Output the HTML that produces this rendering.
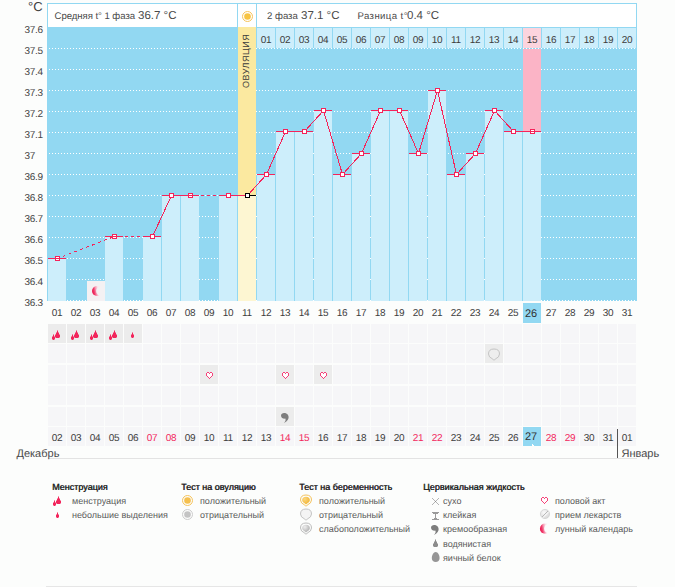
<!DOCTYPE html>
<html><head><meta charset="utf-8"><title>chart</title>
<style>
*{margin:0;padding:0;box-sizing:border-box}
html,body{width:675px;height:587px;overflow:hidden;background:#fcfdfc}
body{position:relative;font-family:"Liberation Sans",sans-serif;color:#4a4a4a;text-rendering:geometricPrecision}
.a{position:absolute}
.t{position:absolute;white-space:nowrap;line-height:1;margin-top:1px}
.yl{position:absolute;margin-top:1px;left:24.6px;font-size:10px;line-height:10px;color:#444;letter-spacing:-0.3px}
.bar{position:absolute;background:#cdeefb}
.grid{position:absolute;left:47px;width:590px;height:1px;background:repeating-linear-gradient(90deg,transparent 0 2px,#fff 2px 3px)}
.hc{position:absolute;top:28px;width:18px;height:20px;background:#cdeefb;font-size:10px;line-height:10px;padding-top:8px;text-align:center;color:#3c3c3c;letter-spacing:-0.2px}
.dl{position:absolute;margin-top:1px;width:18px;text-align:center;font-size:10px;line-height:10px;color:#3c3c3c;letter-spacing:-0.2px}
.cell{position:absolute;width:18px;height:19px;background:#f6f6f8}
.cf{background:#ececec}
.lg{position:absolute;margin-top:1px;font-size:9px;line-height:10px;color:#5a5a5a;white-space:nowrap}
.lt{position:absolute;margin-top:1px;font-size:9px;line-height:10px;color:#262626;white-space:nowrap;letter-spacing:0px;text-shadow:0.4px 0 0 #262626}
</style></head><body>

<div class="a" style="left:47px;top:3px;width:590px;height:298px;background:#92d8f2"></div>
<div class="a" style="left:48px;top:4px;width:189px;height:23px;background:#fff"></div>
<div class="a" style="left:238px;top:4px;width:18px;height:23px;background:#fff"></div>
<div class="a" style="left:257px;top:4px;width:379px;height:23px;background:#fff"></div>
<div class="grid" style="top:48px"></div>
<div class="grid" style="top:69px"></div>
<div class="grid" style="top:90px"></div>
<div class="grid" style="top:111px"></div>
<div class="grid" style="top:132px"></div>
<div class="grid" style="top:153px"></div>
<div class="grid" style="top:174px"></div>
<div class="grid" style="top:195px"></div>
<div class="grid" style="top:216px"></div>
<div class="grid" style="top:237px"></div>
<div class="grid" style="top:258px"></div>
<div class="grid" style="top:279px"></div>
<div class="grid" style="top:300px"></div>
<div class="a" style="left:238px;top:27px;width:18px;height:169px;background:#fbe9a0"></div>
<div class="a" style="left:523px;top:49px;width:18px;height:83px;background:#fbb4c6"></div>
<div class="hc" style="left:257px;background:#cdeefb">01</div>
<div class="hc" style="left:276px;background:#cdeefb">02</div>
<div class="hc" style="left:295px;background:#cdeefb">03</div>
<div class="hc" style="left:314px;background:#cdeefb">04</div>
<div class="hc" style="left:333px;background:#cdeefb">05</div>
<div class="hc" style="left:352px;background:#cdeefb">06</div>
<div class="hc" style="left:371px;background:#cdeefb">07</div>
<div class="hc" style="left:390px;background:#cdeefb">08</div>
<div class="hc" style="left:409px;background:#cdeefb">09</div>
<div class="hc" style="left:428px;background:#cdeefb">10</div>
<div class="hc" style="left:447px;background:#cdeefb">11</div>
<div class="hc" style="left:466px;background:#cdeefb">12</div>
<div class="hc" style="left:485px;background:#cdeefb">13</div>
<div class="hc" style="left:504px;background:#cdeefb">14</div>
<div class="hc" style="left:523px;background:#fcd4de">15</div>
<div class="hc" style="left:542px;background:#cdeefb">16</div>
<div class="hc" style="left:561px;background:#cdeefb">17</div>
<div class="hc" style="left:580px;background:#cdeefb">18</div>
<div class="hc" style="left:599px;background:#cdeefb">19</div>
<div class="hc" style="left:618px;background:#cdeefb">20</div>
<div class="bar" style="left:48px;top:259px;width:18px;height:42px;background:#cdeefb"></div>
<div class="bar" style="left:105px;top:237px;width:18px;height:64px;background:#cdeefb"></div>
<div class="bar" style="left:143px;top:237px;width:18px;height:64px;background:#cdeefb"></div>
<div class="bar" style="left:162px;top:196px;width:18px;height:105px;background:#cdeefb"></div>
<div class="bar" style="left:181px;top:196px;width:18px;height:105px;background:#cdeefb"></div>
<div class="bar" style="left:219px;top:196px;width:18px;height:105px;background:#cdeefb"></div>
<div class="bar" style="left:238px;top:196px;width:18px;height:105px;background:#fdf6d2"></div>
<div class="bar" style="left:257px;top:175px;width:18px;height:126px;background:#cdeefb"></div>
<div class="bar" style="left:276px;top:132px;width:18px;height:169px;background:#cdeefb"></div>
<div class="bar" style="left:295px;top:132px;width:18px;height:169px;background:#cdeefb"></div>
<div class="bar" style="left:314px;top:111px;width:18px;height:190px;background:#cdeefb"></div>
<div class="bar" style="left:333px;top:175px;width:18px;height:126px;background:#cdeefb"></div>
<div class="bar" style="left:352px;top:154px;width:18px;height:147px;background:#cdeefb"></div>
<div class="bar" style="left:371px;top:111px;width:18px;height:190px;background:#cdeefb"></div>
<div class="bar" style="left:390px;top:111px;width:18px;height:190px;background:#cdeefb"></div>
<div class="bar" style="left:409px;top:154px;width:18px;height:147px;background:#cdeefb"></div>
<div class="bar" style="left:428px;top:91px;width:18px;height:210px;background:#cdeefb"></div>
<div class="bar" style="left:447px;top:175px;width:18px;height:126px;background:#cdeefb"></div>
<div class="bar" style="left:466px;top:154px;width:18px;height:147px;background:#cdeefb"></div>
<div class="bar" style="left:485px;top:111px;width:18px;height:190px;background:#cdeefb"></div>
<div class="bar" style="left:504px;top:132px;width:18px;height:169px;background:#cdeefb"></div>
<div class="bar" style="left:523px;top:132px;width:18px;height:169px;background:#cdeefb"></div>
<div class="a" style="left:87px;top:281px;width:18px;height:20px;background:#f4f1f3"></div>
<svg class="a" style="left:0;top:0" width="675" height="587" viewBox="0 0 675 587" shape-rendering="crispEdges">
<line x1="57.5" y1="258.5" x2="114.5" y2="236.5" stroke="#f5235a" stroke-width="1" stroke-dasharray="3 3.3" stroke-dashoffset="0.76"/>
<line x1="114.5" y1="236.5" x2="152.5" y2="236.5" stroke="#f5235a" stroke-width="1" stroke-dasharray="3 3" stroke-dashoffset="1.5"/>
<line x1="152.5" y1="236.5" x2="171.5" y2="195.5" stroke="#f5235a" stroke-width="1"/>
<line x1="171.5" y1="195.5" x2="190.5" y2="195.5" stroke="#f5235a" stroke-width="1"/>
<line x1="190.5" y1="195.5" x2="228.5" y2="195.5" stroke="#f5235a" stroke-width="1" stroke-dasharray="3 3" stroke-dashoffset="1.5"/>
<line x1="228.5" y1="195.5" x2="247.5" y2="195.5" stroke="#f5235a" stroke-width="1"/>
<line x1="247.5" y1="195.5" x2="266.5" y2="174.5" stroke="#f5235a" stroke-width="1"/>
<line x1="266.5" y1="174.5" x2="285.5" y2="131.5" stroke="#f5235a" stroke-width="1"/>
<line x1="285.5" y1="131.5" x2="304.5" y2="131.5" stroke="#f5235a" stroke-width="1"/>
<line x1="304.5" y1="131.5" x2="323.5" y2="110.5" stroke="#f5235a" stroke-width="1"/>
<line x1="323.5" y1="110.5" x2="342.5" y2="174.5" stroke="#f5235a" stroke-width="1"/>
<line x1="342.5" y1="174.5" x2="361.5" y2="153.5" stroke="#f5235a" stroke-width="1"/>
<line x1="361.5" y1="153.5" x2="380.5" y2="110.5" stroke="#f5235a" stroke-width="1"/>
<line x1="380.5" y1="110.5" x2="399.5" y2="110.5" stroke="#f5235a" stroke-width="1"/>
<line x1="399.5" y1="110.5" x2="418.5" y2="153.5" stroke="#f5235a" stroke-width="1"/>
<line x1="418.5" y1="153.5" x2="437.5" y2="90.5" stroke="#f5235a" stroke-width="1"/>
<line x1="437.5" y1="90.5" x2="456.5" y2="174.5" stroke="#f5235a" stroke-width="1"/>
<line x1="456.5" y1="174.5" x2="475.5" y2="153.5" stroke="#f5235a" stroke-width="1"/>
<line x1="475.5" y1="153.5" x2="494.5" y2="110.5" stroke="#f5235a" stroke-width="1"/>
<line x1="494.5" y1="110.5" x2="513.5" y2="131.5" stroke="#f5235a" stroke-width="1"/>
<line x1="513.5" y1="131.5" x2="532.5" y2="131.5" stroke="#f5235a" stroke-width="1"/>
<rect x="48" y="258" width="18" height="1" fill="#f5235a"/>
<rect x="105" y="236" width="18" height="1" fill="#f5235a"/>
<rect x="143" y="236" width="18" height="1" fill="#f5235a"/>
<rect x="162" y="195" width="18" height="1" fill="#f5235a"/>
<rect x="181" y="195" width="18" height="1" fill="#f5235a"/>
<rect x="219" y="195" width="18" height="1" fill="#f5235a"/>
<rect x="238" y="195" width="9" height="1" fill="#f5235a"/>
<rect x="247" y="195" width="9" height="1" fill="#000"/>
<rect x="257" y="174" width="18" height="1" fill="#f5235a"/>
<rect x="276" y="131" width="18" height="1" fill="#f5235a"/>
<rect x="295" y="131" width="18" height="1" fill="#f5235a"/>
<rect x="314" y="110" width="18" height="1" fill="#f5235a"/>
<rect x="333" y="174" width="18" height="1" fill="#f5235a"/>
<rect x="352" y="153" width="18" height="1" fill="#f5235a"/>
<rect x="371" y="110" width="18" height="1" fill="#f5235a"/>
<rect x="390" y="110" width="18" height="1" fill="#f5235a"/>
<rect x="409" y="153" width="18" height="1" fill="#f5235a"/>
<rect x="428" y="90" width="18" height="1" fill="#f5235a"/>
<rect x="447" y="174" width="18" height="1" fill="#f5235a"/>
<rect x="466" y="153" width="18" height="1" fill="#f5235a"/>
<rect x="485" y="110" width="18" height="1" fill="#f5235a"/>
<rect x="504" y="131" width="18" height="1" fill="#f5235a"/>
<rect x="523" y="131" width="18" height="1" fill="#f5235a"/>
<rect x="55.5" y="256.5" width="4" height="4" fill="#fff" stroke="#f5235a" stroke-width="1"/>
<rect x="112.5" y="234.5" width="4" height="4" fill="#fff" stroke="#f5235a" stroke-width="1"/>
<rect x="150.5" y="234.5" width="4" height="4" fill="#fff" stroke="#f5235a" stroke-width="1"/>
<rect x="169.5" y="193.5" width="4" height="4" fill="#fff" stroke="#f5235a" stroke-width="1"/>
<rect x="188.5" y="193.5" width="4" height="4" fill="#fff" stroke="#f5235a" stroke-width="1"/>
<rect x="226.5" y="193.5" width="4" height="4" fill="#fff" stroke="#f5235a" stroke-width="1"/>
<rect x="245.5" y="193.5" width="4" height="4" fill="#fff" stroke="#000" stroke-width="1"/>
<rect x="264.5" y="172.5" width="4" height="4" fill="#fff" stroke="#f5235a" stroke-width="1"/>
<rect x="283.5" y="129.5" width="4" height="4" fill="#fff" stroke="#f5235a" stroke-width="1"/>
<rect x="302.5" y="129.5" width="4" height="4" fill="#fff" stroke="#f5235a" stroke-width="1"/>
<rect x="321.5" y="108.5" width="4" height="4" fill="#fff" stroke="#f5235a" stroke-width="1"/>
<rect x="340.5" y="172.5" width="4" height="4" fill="#fff" stroke="#f5235a" stroke-width="1"/>
<rect x="359.5" y="151.5" width="4" height="4" fill="#fff" stroke="#f5235a" stroke-width="1"/>
<rect x="378.5" y="108.5" width="4" height="4" fill="#fff" stroke="#f5235a" stroke-width="1"/>
<rect x="397.5" y="108.5" width="4" height="4" fill="#fff" stroke="#f5235a" stroke-width="1"/>
<rect x="416.5" y="151.5" width="4" height="4" fill="#fff" stroke="#f5235a" stroke-width="1"/>
<rect x="435.5" y="88.5" width="4" height="4" fill="#fff" stroke="#f5235a" stroke-width="1"/>
<rect x="454.5" y="172.5" width="4" height="4" fill="#fff" stroke="#f5235a" stroke-width="1"/>
<rect x="473.5" y="151.5" width="4" height="4" fill="#fff" stroke="#f5235a" stroke-width="1"/>
<rect x="492.5" y="108.5" width="4" height="4" fill="#fff" stroke="#f5235a" stroke-width="1"/>
<rect x="511.5" y="129.5" width="4" height="4" fill="#fff" stroke="#f5235a" stroke-width="1"/>
<rect x="530.5" y="129.5" width="4" height="4" fill="#fff" stroke="#f5235a" stroke-width="1"/>
<rect x="48" y="258" width="18" height="1" fill="#f5235a"/>
<rect x="105" y="236" width="18" height="1" fill="#f5235a"/>
<rect x="181" y="195" width="18" height="1" fill="#f5235a"/>
<rect x="523" y="131" width="18" height="1" fill="#f5235a"/>
</svg>
<div class="yl" style="top:25px">37.6</div>
<div class="yl" style="top:46px">37.5</div>
<div class="yl" style="top:67px">37.4</div>
<div class="yl" style="top:88px">37.3</div>
<div class="yl" style="top:109px">37.2</div>
<div class="yl" style="top:130px">37.1</div>
<div class="yl" style="top:151px">37</div>
<div class="yl" style="top:172px">36.9</div>
<div class="yl" style="top:193px">36.8</div>
<div class="yl" style="top:214px">36.7</div>
<div class="yl" style="top:235px">36.6</div>
<div class="yl" style="top:256px">36.5</div>
<div class="yl" style="top:277px">36.4</div>
<div class="yl" style="top:298px">36.3</div>
<div class="t" style="left:28px;top:-1px;font-size:13px;line-height:13px;color:#3c3c3c">&deg;C</div>
<div style="position:absolute;white-space:nowrap;line-height:10px;color:#4a4a4a;margin-top:1px;left:54.5px;top:11px;font-size:9.6px;letter-spacing:-0.05px">Средняя t° 1 фаза</div>
<div style="position:absolute;white-space:nowrap;line-height:10px;color:#4a4a4a;margin-top:1px;left:138px;top:10px;font-size:11.5px;letter-spacing:0px">36.7 °C</div>
<div style="position:absolute;white-space:nowrap;line-height:10px;color:#4a4a4a;margin-top:1px;left:267px;top:11px;font-size:9.6px;letter-spacing:0px">2 фаза</div>
<div style="position:absolute;white-space:nowrap;line-height:10px;color:#4a4a4a;margin-top:1px;left:301px;top:10px;font-size:11.5px">37.1 °C</div>
<div style="position:absolute;white-space:nowrap;line-height:10px;color:#4a4a4a;margin-top:1px;left:357.5px;top:11px;font-size:9.6px;letter-spacing:0.4px">Разница t°</div>
<div style="position:absolute;white-space:nowrap;line-height:10px;color:#4a4a4a;margin-top:1px;left:407px;top:10px;font-size:11.5px">0.4 °C</div>
<svg class="a" style="left:242px;top:11px" width="12" height="12" viewBox="0 0 12 12"><circle cx="5.5" cy="5.5" r="5" fill="none" stroke="#f6c35a" stroke-width="1"/><circle cx="5.5" cy="5.5" r="3.3" fill="#f7c443"/></svg>
<div class="t" style="left:242px;top:87px;font-size:9px;color:#3a3a3a;transform:rotate(-90deg);transform-origin:0 0;letter-spacing:0.5px">ОВУЛЯЦИЯ</div>
<svg class="a" style="left:0;top:0" width="675" height="587" viewBox="0 0 675 587"><defs><linearGradient id="mga" x1="0" y1="0.6" x2="1" y2="0.4"><stop offset="0.05" stop-color="#ec1a52"/><stop offset="0.22" stop-color="#f03a6a"/><stop offset="0.42" stop-color="#f79fb7"/><stop offset="0.65" stop-color="#fde6ee"/></linearGradient><mask id="mma"><rect x="91.0" y="285.0" width="12.0" height="12.0" fill="#fff"/><circle cx="100.90" cy="291.00" r="4.75" fill="#000"/></mask></defs><circle cx="97.00" cy="291.00" r="5.00" fill="url(#mga)" mask="url(#mma)"/></svg>
<div class="dl" style="left:48px;top:308px">01</div>
<div class="dl" style="left:67px;top:308px">02</div>
<div class="dl" style="left:86px;top:308px">03</div>
<div class="dl" style="left:105px;top:308px">04</div>
<div class="dl" style="left:124px;top:308px">05</div>
<div class="dl" style="left:143px;top:308px">06</div>
<div class="dl" style="left:162px;top:308px">07</div>
<div class="dl" style="left:181px;top:308px">08</div>
<div class="dl" style="left:200px;top:308px">09</div>
<div class="dl" style="left:219px;top:308px">10</div>
<div class="dl" style="left:238px;top:308px">11</div>
<div class="dl" style="left:257px;top:308px">12</div>
<div class="dl" style="left:276px;top:308px">13</div>
<div class="dl" style="left:295px;top:308px">14</div>
<div class="dl" style="left:314px;top:308px">15</div>
<div class="dl" style="left:333px;top:308px">16</div>
<div class="dl" style="left:352px;top:308px">17</div>
<div class="dl" style="left:371px;top:308px">18</div>
<div class="dl" style="left:390px;top:308px">19</div>
<div class="dl" style="left:409px;top:308px">20</div>
<div class="dl" style="left:428px;top:308px">21</div>
<div class="dl" style="left:447px;top:308px">22</div>
<div class="dl" style="left:466px;top:308px">23</div>
<div class="dl" style="left:485px;top:308px">24</div>
<div class="dl" style="left:504px;top:308px">25</div>
<div class="a" style="left:523px;top:303px;width:18px;height:20px;background:#92d8f2"></div>
<div class="dl" style="left:522px;top:307px;font-size:11px;line-height:12px;color:#333">26</div>
<div class="dl" style="left:542px;top:308px">27</div>
<div class="dl" style="left:561px;top:308px">28</div>
<div class="dl" style="left:580px;top:308px">29</div>
<div class="dl" style="left:599px;top:308px">30</div>
<div class="dl" style="left:618px;top:308px">31</div>
<div class="cell cf" style="left:48px;top:324px"></div>
<div class="cell cf" style="left:67px;top:324px"></div>
<div class="cell cf" style="left:86px;top:324px"></div>
<div class="cell cf" style="left:105px;top:324px"></div>
<div class="cell cf" style="left:124px;top:324px"></div>
<div class="cell" style="left:143px;top:324px"></div>
<div class="cell" style="left:162px;top:324px"></div>
<div class="cell" style="left:181px;top:324px"></div>
<div class="cell" style="left:200px;top:324px"></div>
<div class="cell" style="left:219px;top:324px"></div>
<div class="cell" style="left:238px;top:324px"></div>
<div class="cell" style="left:257px;top:324px"></div>
<div class="cell" style="left:276px;top:324px"></div>
<div class="cell" style="left:295px;top:324px"></div>
<div class="cell" style="left:314px;top:324px"></div>
<div class="cell" style="left:333px;top:324px"></div>
<div class="cell" style="left:352px;top:324px"></div>
<div class="cell" style="left:371px;top:324px"></div>
<div class="cell" style="left:390px;top:324px"></div>
<div class="cell" style="left:409px;top:324px"></div>
<div class="cell" style="left:428px;top:324px"></div>
<div class="cell" style="left:447px;top:324px"></div>
<div class="cell" style="left:466px;top:324px"></div>
<div class="cell" style="left:485px;top:324px"></div>
<div class="cell" style="left:504px;top:324px"></div>
<div class="cell" style="left:523px;top:324px"></div>
<div class="cell" style="left:542px;top:324px"></div>
<div class="cell" style="left:561px;top:324px"></div>
<div class="cell" style="left:580px;top:324px"></div>
<div class="cell" style="left:599px;top:324px"></div>
<div class="cell" style="left:618px;top:324px"></div>
<div class="cell" style="left:48px;top:344px"></div>
<div class="cell" style="left:67px;top:344px"></div>
<div class="cell" style="left:86px;top:344px"></div>
<div class="cell" style="left:105px;top:344px"></div>
<div class="cell" style="left:124px;top:344px"></div>
<div class="cell" style="left:143px;top:344px"></div>
<div class="cell" style="left:162px;top:344px"></div>
<div class="cell" style="left:181px;top:344px"></div>
<div class="cell" style="left:200px;top:344px"></div>
<div class="cell" style="left:219px;top:344px"></div>
<div class="cell" style="left:238px;top:344px"></div>
<div class="cell" style="left:257px;top:344px"></div>
<div class="cell" style="left:276px;top:344px"></div>
<div class="cell" style="left:295px;top:344px"></div>
<div class="cell" style="left:314px;top:344px"></div>
<div class="cell" style="left:333px;top:344px"></div>
<div class="cell" style="left:352px;top:344px"></div>
<div class="cell" style="left:371px;top:344px"></div>
<div class="cell" style="left:390px;top:344px"></div>
<div class="cell" style="left:409px;top:344px"></div>
<div class="cell" style="left:428px;top:344px"></div>
<div class="cell" style="left:447px;top:344px"></div>
<div class="cell" style="left:466px;top:344px"></div>
<div class="cell cf" style="left:485px;top:344px"></div>
<div class="cell" style="left:504px;top:344px"></div>
<div class="cell" style="left:523px;top:344px"></div>
<div class="cell" style="left:542px;top:344px"></div>
<div class="cell" style="left:561px;top:344px"></div>
<div class="cell" style="left:580px;top:344px"></div>
<div class="cell" style="left:599px;top:344px"></div>
<div class="cell" style="left:618px;top:344px"></div>
<div class="cell" style="left:48px;top:365px"></div>
<div class="cell" style="left:67px;top:365px"></div>
<div class="cell" style="left:86px;top:365px"></div>
<div class="cell" style="left:105px;top:365px"></div>
<div class="cell" style="left:124px;top:365px"></div>
<div class="cell" style="left:143px;top:365px"></div>
<div class="cell" style="left:162px;top:365px"></div>
<div class="cell" style="left:181px;top:365px"></div>
<div class="cell cf" style="left:200px;top:365px"></div>
<div class="cell" style="left:219px;top:365px"></div>
<div class="cell" style="left:238px;top:365px"></div>
<div class="cell" style="left:257px;top:365px"></div>
<div class="cell cf" style="left:276px;top:365px"></div>
<div class="cell" style="left:295px;top:365px"></div>
<div class="cell cf" style="left:314px;top:365px"></div>
<div class="cell" style="left:333px;top:365px"></div>
<div class="cell" style="left:352px;top:365px"></div>
<div class="cell" style="left:371px;top:365px"></div>
<div class="cell" style="left:390px;top:365px"></div>
<div class="cell" style="left:409px;top:365px"></div>
<div class="cell" style="left:428px;top:365px"></div>
<div class="cell" style="left:447px;top:365px"></div>
<div class="cell" style="left:466px;top:365px"></div>
<div class="cell" style="left:485px;top:365px"></div>
<div class="cell" style="left:504px;top:365px"></div>
<div class="cell" style="left:523px;top:365px"></div>
<div class="cell" style="left:542px;top:365px"></div>
<div class="cell" style="left:561px;top:365px"></div>
<div class="cell" style="left:580px;top:365px"></div>
<div class="cell" style="left:599px;top:365px"></div>
<div class="cell" style="left:618px;top:365px"></div>
<div class="cell" style="left:48px;top:386px"></div>
<div class="cell" style="left:67px;top:386px"></div>
<div class="cell" style="left:86px;top:386px"></div>
<div class="cell" style="left:105px;top:386px"></div>
<div class="cell" style="left:124px;top:386px"></div>
<div class="cell" style="left:143px;top:386px"></div>
<div class="cell" style="left:162px;top:386px"></div>
<div class="cell" style="left:181px;top:386px"></div>
<div class="cell" style="left:200px;top:386px"></div>
<div class="cell" style="left:219px;top:386px"></div>
<div class="cell" style="left:238px;top:386px"></div>
<div class="cell" style="left:257px;top:386px"></div>
<div class="cell" style="left:276px;top:386px"></div>
<div class="cell" style="left:295px;top:386px"></div>
<div class="cell" style="left:314px;top:386px"></div>
<div class="cell" style="left:333px;top:386px"></div>
<div class="cell" style="left:352px;top:386px"></div>
<div class="cell" style="left:371px;top:386px"></div>
<div class="cell" style="left:390px;top:386px"></div>
<div class="cell" style="left:409px;top:386px"></div>
<div class="cell" style="left:428px;top:386px"></div>
<div class="cell" style="left:447px;top:386px"></div>
<div class="cell" style="left:466px;top:386px"></div>
<div class="cell" style="left:485px;top:386px"></div>
<div class="cell" style="left:504px;top:386px"></div>
<div class="cell" style="left:523px;top:386px"></div>
<div class="cell" style="left:542px;top:386px"></div>
<div class="cell" style="left:561px;top:386px"></div>
<div class="cell" style="left:580px;top:386px"></div>
<div class="cell" style="left:599px;top:386px"></div>
<div class="cell" style="left:618px;top:386px"></div>
<div class="cell" style="left:48px;top:407px"></div>
<div class="cell" style="left:67px;top:407px"></div>
<div class="cell" style="left:86px;top:407px"></div>
<div class="cell" style="left:105px;top:407px"></div>
<div class="cell" style="left:124px;top:407px"></div>
<div class="cell" style="left:143px;top:407px"></div>
<div class="cell" style="left:162px;top:407px"></div>
<div class="cell" style="left:181px;top:407px"></div>
<div class="cell" style="left:200px;top:407px"></div>
<div class="cell" style="left:219px;top:407px"></div>
<div class="cell" style="left:238px;top:407px"></div>
<div class="cell" style="left:257px;top:407px"></div>
<div class="cell cf" style="left:276px;top:407px"></div>
<div class="cell" style="left:295px;top:407px"></div>
<div class="cell" style="left:314px;top:407px"></div>
<div class="cell" style="left:333px;top:407px"></div>
<div class="cell" style="left:352px;top:407px"></div>
<div class="cell" style="left:371px;top:407px"></div>
<div class="cell" style="left:390px;top:407px"></div>
<div class="cell" style="left:409px;top:407px"></div>
<div class="cell" style="left:428px;top:407px"></div>
<div class="cell" style="left:447px;top:407px"></div>
<div class="cell" style="left:466px;top:407px"></div>
<div class="cell" style="left:485px;top:407px"></div>
<div class="cell" style="left:504px;top:407px"></div>
<div class="cell" style="left:523px;top:407px"></div>
<div class="cell" style="left:542px;top:407px"></div>
<div class="cell" style="left:561px;top:407px"></div>
<div class="cell" style="left:580px;top:407px"></div>
<div class="cell" style="left:599px;top:407px"></div>
<div class="cell" style="left:618px;top:407px"></div>
<div class="cell" style="left:48px;top:427px"></div>
<div class="cell" style="left:67px;top:427px"></div>
<div class="cell" style="left:86px;top:427px"></div>
<div class="cell" style="left:105px;top:427px"></div>
<div class="cell" style="left:124px;top:427px"></div>
<div class="cell" style="left:143px;top:427px"></div>
<div class="cell" style="left:162px;top:427px"></div>
<div class="cell" style="left:181px;top:427px"></div>
<div class="cell" style="left:200px;top:427px"></div>
<div class="cell" style="left:219px;top:427px"></div>
<div class="cell" style="left:238px;top:427px"></div>
<div class="cell" style="left:257px;top:427px"></div>
<div class="cell" style="left:276px;top:427px"></div>
<div class="cell" style="left:295px;top:427px"></div>
<div class="cell" style="left:314px;top:427px"></div>
<div class="cell" style="left:333px;top:427px"></div>
<div class="cell" style="left:352px;top:427px"></div>
<div class="cell" style="left:371px;top:427px"></div>
<div class="cell" style="left:390px;top:427px"></div>
<div class="cell" style="left:409px;top:427px"></div>
<div class="cell" style="left:428px;top:427px"></div>
<div class="cell" style="left:447px;top:427px"></div>
<div class="cell" style="left:466px;top:427px"></div>
<div class="cell" style="left:485px;top:427px"></div>
<div class="cell" style="left:504px;top:427px"></div>
<div class="cell" style="left:523px;top:427px;background:#92d8f2"></div>
<div class="cell" style="left:542px;top:427px"></div>
<div class="cell" style="left:561px;top:427px"></div>
<div class="cell" style="left:580px;top:427px"></div>
<div class="cell" style="left:599px;top:427px"></div>
<div class="cell" style="left:618px;top:427px"></div>
<svg class="a" style="left:0;top:0" width="675" height="587" viewBox="0 0 675 587" shape-rendering="crispEdges">
<rect x="57" y="330" width="1" height="1" fill="#f2265c" fill-opacity="0.5"/><rect x="57" y="331" width="1" height="1" fill="#f2265c"/><rect x="56" y="332" width="1" height="1" fill="#f2265c" fill-opacity="0.5"/><rect x="57" y="332" width="1" height="1" fill="#f2265c"/><rect x="58" y="332" width="1" height="1" fill="#f2265c" fill-opacity="0.5"/><rect x="56" y="333" width="3" height="1" fill="#f2265c"/><rect x="55" y="334" width="1" height="1" fill="#f2265c" fill-opacity="0.5"/><rect x="56" y="334" width="3" height="1" fill="#f2265c"/><rect x="59" y="334" width="1" height="1" fill="#f2265c" fill-opacity="0.5"/><rect x="55" y="335" width="5" height="1" fill="#f2265c"/><rect x="55" y="336" width="5" height="1" fill="#f2265c"/><rect x="55" y="337" width="1" height="1" fill="#f2265c" fill-opacity="0.5"/><rect x="56" y="337" width="3" height="1" fill="#f2265c"/><rect x="59" y="337" width="1" height="1" fill="#f2265c" fill-opacity="0.5"/>
<rect x="53" y="334" width="1" height="1" fill="#f2265c" fill-opacity="0.5"/><rect x="53" y="335" width="1" height="1" fill="#f2265c"/><rect x="52" y="336" width="1" height="1" fill="#f2265c" fill-opacity="0.5"/><rect x="53" y="336" width="1" height="1" fill="#f2265c"/><rect x="54" y="336" width="1" height="1" fill="#f2265c" fill-opacity="0.5"/><rect x="52" y="337" width="3" height="1" fill="#f2265c"/><rect x="52" y="338" width="3" height="1" fill="#f2265c"/><rect x="52" y="339" width="1" height="1" fill="#f2265c" fill-opacity="0.5"/><rect x="53" y="339" width="1" height="1" fill="#f2265c"/><rect x="54" y="339" width="1" height="1" fill="#f2265c" fill-opacity="0.5"/>
<rect x="76" y="330" width="1" height="1" fill="#f2265c" fill-opacity="0.5"/><rect x="76" y="331" width="1" height="1" fill="#f2265c"/><rect x="75" y="332" width="1" height="1" fill="#f2265c" fill-opacity="0.5"/><rect x="76" y="332" width="1" height="1" fill="#f2265c"/><rect x="77" y="332" width="1" height="1" fill="#f2265c" fill-opacity="0.5"/><rect x="75" y="333" width="3" height="1" fill="#f2265c"/><rect x="74" y="334" width="1" height="1" fill="#f2265c" fill-opacity="0.5"/><rect x="75" y="334" width="3" height="1" fill="#f2265c"/><rect x="78" y="334" width="1" height="1" fill="#f2265c" fill-opacity="0.5"/><rect x="74" y="335" width="5" height="1" fill="#f2265c"/><rect x="74" y="336" width="5" height="1" fill="#f2265c"/><rect x="74" y="337" width="1" height="1" fill="#f2265c" fill-opacity="0.5"/><rect x="75" y="337" width="3" height="1" fill="#f2265c"/><rect x="78" y="337" width="1" height="1" fill="#f2265c" fill-opacity="0.5"/>
<rect x="72" y="334" width="1" height="1" fill="#f2265c" fill-opacity="0.5"/><rect x="72" y="335" width="1" height="1" fill="#f2265c"/><rect x="71" y="336" width="1" height="1" fill="#f2265c" fill-opacity="0.5"/><rect x="72" y="336" width="1" height="1" fill="#f2265c"/><rect x="73" y="336" width="1" height="1" fill="#f2265c" fill-opacity="0.5"/><rect x="71" y="337" width="3" height="1" fill="#f2265c"/><rect x="71" y="338" width="3" height="1" fill="#f2265c"/><rect x="71" y="339" width="1" height="1" fill="#f2265c" fill-opacity="0.5"/><rect x="72" y="339" width="1" height="1" fill="#f2265c"/><rect x="73" y="339" width="1" height="1" fill="#f2265c" fill-opacity="0.5"/>
<rect x="95" y="330" width="1" height="1" fill="#f2265c" fill-opacity="0.5"/><rect x="95" y="331" width="1" height="1" fill="#f2265c"/><rect x="94" y="332" width="1" height="1" fill="#f2265c" fill-opacity="0.5"/><rect x="95" y="332" width="1" height="1" fill="#f2265c"/><rect x="96" y="332" width="1" height="1" fill="#f2265c" fill-opacity="0.5"/><rect x="94" y="333" width="3" height="1" fill="#f2265c"/><rect x="93" y="334" width="1" height="1" fill="#f2265c" fill-opacity="0.5"/><rect x="94" y="334" width="3" height="1" fill="#f2265c"/><rect x="97" y="334" width="1" height="1" fill="#f2265c" fill-opacity="0.5"/><rect x="93" y="335" width="5" height="1" fill="#f2265c"/><rect x="93" y="336" width="5" height="1" fill="#f2265c"/><rect x="93" y="337" width="1" height="1" fill="#f2265c" fill-opacity="0.5"/><rect x="94" y="337" width="3" height="1" fill="#f2265c"/><rect x="97" y="337" width="1" height="1" fill="#f2265c" fill-opacity="0.5"/>
<rect x="91" y="334" width="1" height="1" fill="#f2265c" fill-opacity="0.5"/><rect x="91" y="335" width="1" height="1" fill="#f2265c"/><rect x="90" y="336" width="1" height="1" fill="#f2265c" fill-opacity="0.5"/><rect x="91" y="336" width="1" height="1" fill="#f2265c"/><rect x="92" y="336" width="1" height="1" fill="#f2265c" fill-opacity="0.5"/><rect x="90" y="337" width="3" height="1" fill="#f2265c"/><rect x="90" y="338" width="3" height="1" fill="#f2265c"/><rect x="90" y="339" width="1" height="1" fill="#f2265c" fill-opacity="0.5"/><rect x="91" y="339" width="1" height="1" fill="#f2265c"/><rect x="92" y="339" width="1" height="1" fill="#f2265c" fill-opacity="0.5"/>
<rect x="114" y="330" width="1" height="1" fill="#f2265c" fill-opacity="0.5"/><rect x="114" y="331" width="1" height="1" fill="#f2265c"/><rect x="113" y="332" width="1" height="1" fill="#f2265c" fill-opacity="0.5"/><rect x="114" y="332" width="1" height="1" fill="#f2265c"/><rect x="115" y="332" width="1" height="1" fill="#f2265c" fill-opacity="0.5"/><rect x="113" y="333" width="3" height="1" fill="#f2265c"/><rect x="112" y="334" width="1" height="1" fill="#f2265c" fill-opacity="0.5"/><rect x="113" y="334" width="3" height="1" fill="#f2265c"/><rect x="116" y="334" width="1" height="1" fill="#f2265c" fill-opacity="0.5"/><rect x="112" y="335" width="5" height="1" fill="#f2265c"/><rect x="112" y="336" width="5" height="1" fill="#f2265c"/><rect x="112" y="337" width="1" height="1" fill="#f2265c" fill-opacity="0.5"/><rect x="113" y="337" width="3" height="1" fill="#f2265c"/><rect x="116" y="337" width="1" height="1" fill="#f2265c" fill-opacity="0.5"/>
<rect x="110" y="334" width="1" height="1" fill="#f2265c" fill-opacity="0.5"/><rect x="110" y="335" width="1" height="1" fill="#f2265c"/><rect x="109" y="336" width="1" height="1" fill="#f2265c" fill-opacity="0.5"/><rect x="110" y="336" width="1" height="1" fill="#f2265c"/><rect x="111" y="336" width="1" height="1" fill="#f2265c" fill-opacity="0.5"/><rect x="109" y="337" width="3" height="1" fill="#f2265c"/><rect x="109" y="338" width="3" height="1" fill="#f2265c"/><rect x="109" y="339" width="1" height="1" fill="#f2265c" fill-opacity="0.5"/><rect x="110" y="339" width="1" height="1" fill="#f2265c"/><rect x="111" y="339" width="1" height="1" fill="#f2265c" fill-opacity="0.5"/>
<rect x="132" y="332" width="1" height="1" fill="#f2265c" fill-opacity="0.5"/><rect x="132" y="333" width="1" height="1" fill="#f2265c"/><rect x="131" y="334" width="1" height="1" fill="#f2265c" fill-opacity="0.5"/><rect x="132" y="334" width="1" height="1" fill="#f2265c"/><rect x="133" y="334" width="1" height="1" fill="#f2265c" fill-opacity="0.5"/><rect x="131" y="335" width="3" height="1" fill="#f2265c"/><rect x="131" y="336" width="3" height="1" fill="#f2265c"/><rect x="131" y="337" width="1" height="1" fill="#f2265c" fill-opacity="0.5"/><rect x="132" y="337" width="1" height="1" fill="#f2265c"/><rect x="133" y="337" width="1" height="1" fill="#f2265c" fill-opacity="0.5"/>
<rect x="207" y="373" width="2" height="1" fill="#fff"/><rect x="210" y="373" width="2" height="1" fill="#fff"/><rect x="207" y="374" width="5" height="1" fill="#fff"/><rect x="207" y="375" width="5" height="1" fill="#fff"/><rect x="208" y="376" width="3" height="1" fill="#fff"/><rect x="209" y="377" width="1" height="1" fill="#fff"/>
<rect x="207" y="372" width="2" height="1" fill="#f5437a"/><rect x="210" y="372" width="2" height="1" fill="#f5437a"/><rect x="206" y="373" width="1" height="1" fill="#f5437a"/><rect x="209" y="373" width="1" height="1" fill="#f5437a"/><rect x="212" y="373" width="1" height="1" fill="#f5437a"/><rect x="206" y="374" width="1" height="1" fill="#f5437a"/><rect x="212" y="374" width="1" height="1" fill="#f5437a"/><rect x="206" y="375" width="1" height="1" fill="#f5437a"/><rect x="212" y="375" width="1" height="1" fill="#f5437a"/><rect x="207" y="376" width="1" height="1" fill="#f5437a"/><rect x="211" y="376" width="1" height="1" fill="#f5437a"/><rect x="208" y="377" width="1" height="1" fill="#f5437a"/><rect x="210" y="377" width="1" height="1" fill="#f5437a"/><rect x="209" y="378" width="1" height="1" fill="#f5437a"/>
<rect x="283" y="373" width="2" height="1" fill="#fff"/><rect x="286" y="373" width="2" height="1" fill="#fff"/><rect x="283" y="374" width="5" height="1" fill="#fff"/><rect x="283" y="375" width="5" height="1" fill="#fff"/><rect x="284" y="376" width="3" height="1" fill="#fff"/><rect x="285" y="377" width="1" height="1" fill="#fff"/>
<rect x="283" y="372" width="2" height="1" fill="#f5437a"/><rect x="286" y="372" width="2" height="1" fill="#f5437a"/><rect x="282" y="373" width="1" height="1" fill="#f5437a"/><rect x="285" y="373" width="1" height="1" fill="#f5437a"/><rect x="288" y="373" width="1" height="1" fill="#f5437a"/><rect x="282" y="374" width="1" height="1" fill="#f5437a"/><rect x="288" y="374" width="1" height="1" fill="#f5437a"/><rect x="282" y="375" width="1" height="1" fill="#f5437a"/><rect x="288" y="375" width="1" height="1" fill="#f5437a"/><rect x="283" y="376" width="1" height="1" fill="#f5437a"/><rect x="287" y="376" width="1" height="1" fill="#f5437a"/><rect x="284" y="377" width="1" height="1" fill="#f5437a"/><rect x="286" y="377" width="1" height="1" fill="#f5437a"/><rect x="285" y="378" width="1" height="1" fill="#f5437a"/>
<rect x="321" y="373" width="2" height="1" fill="#fff"/><rect x="324" y="373" width="2" height="1" fill="#fff"/><rect x="321" y="374" width="5" height="1" fill="#fff"/><rect x="321" y="375" width="5" height="1" fill="#fff"/><rect x="322" y="376" width="3" height="1" fill="#fff"/><rect x="323" y="377" width="1" height="1" fill="#fff"/>
<rect x="321" y="372" width="2" height="1" fill="#f5437a"/><rect x="324" y="372" width="2" height="1" fill="#f5437a"/><rect x="320" y="373" width="1" height="1" fill="#f5437a"/><rect x="323" y="373" width="1" height="1" fill="#f5437a"/><rect x="326" y="373" width="1" height="1" fill="#f5437a"/><rect x="320" y="374" width="1" height="1" fill="#f5437a"/><rect x="326" y="374" width="1" height="1" fill="#f5437a"/><rect x="320" y="375" width="1" height="1" fill="#f5437a"/><rect x="326" y="375" width="1" height="1" fill="#f5437a"/><rect x="321" y="376" width="1" height="1" fill="#f5437a"/><rect x="325" y="376" width="1" height="1" fill="#f5437a"/><rect x="322" y="377" width="1" height="1" fill="#f5437a"/><rect x="324" y="377" width="1" height="1" fill="#f5437a"/><rect x="323" y="378" width="1" height="1" fill="#f5437a"/>
<path d="M281 415.5 C281 412.5 286 412 288 415 C289.8 418 287.5 421.5 284 423 C285.5 421.5 286 420 285.3 418.6 C283.5 419 281 418 281 415.5Z" fill="#7d7d7d" shape-rendering="auto"/>
<g shape-rendering="auto" transform="translate(494.0 354.5)"><path d="M-5.5 -0.5 Q-5.5 -5.5 0 -5.5 Q5.5 -5.5 5.5 -0.5 Q5.5 2.8 1.2 4.6 L0 5.8 L-1.2 4.6 Q-5.5 2.8 -5.5 -0.5Z" fill="#eeeeee" stroke="#c4c4c4" stroke-width="1"/></g>
</svg>
<div class="dl" style="left:48px;top:433px;color:#3c3c3c">02</div>
<div class="dl" style="left:67px;top:433px;color:#3c3c3c">03</div>
<div class="dl" style="left:86px;top:433px;color:#3c3c3c">04</div>
<div class="dl" style="left:105px;top:433px;color:#3c3c3c">05</div>
<div class="dl" style="left:124px;top:433px;color:#3c3c3c">06</div>
<div class="dl" style="left:143px;top:433px;color:#f2265c">07</div>
<div class="dl" style="left:162px;top:433px;color:#f2265c">08</div>
<div class="dl" style="left:181px;top:433px;color:#3c3c3c">09</div>
<div class="dl" style="left:200px;top:433px;color:#3c3c3c">10</div>
<div class="dl" style="left:219px;top:433px;color:#3c3c3c">11</div>
<div class="dl" style="left:238px;top:433px;color:#3c3c3c">12</div>
<div class="dl" style="left:257px;top:433px;color:#3c3c3c">13</div>
<div class="dl" style="left:276px;top:433px;color:#f2265c">14</div>
<div class="dl" style="left:295px;top:433px;color:#f2265c">15</div>
<div class="dl" style="left:314px;top:433px;color:#3c3c3c">16</div>
<div class="dl" style="left:333px;top:433px;color:#3c3c3c">17</div>
<div class="dl" style="left:352px;top:433px;color:#3c3c3c">18</div>
<div class="dl" style="left:371px;top:433px;color:#3c3c3c">19</div>
<div class="dl" style="left:390px;top:433px;color:#3c3c3c">20</div>
<div class="dl" style="left:409px;top:433px;color:#f2265c">21</div>
<div class="dl" style="left:428px;top:433px;color:#f2265c">22</div>
<div class="dl" style="left:447px;top:433px;color:#3c3c3c">23</div>
<div class="dl" style="left:466px;top:433px;color:#3c3c3c">24</div>
<div class="dl" style="left:485px;top:433px;color:#3c3c3c">25</div>
<div class="dl" style="left:504px;top:433px;color:#3c3c3c">26</div>
<div class="dl" style="left:522px;top:430px;font-size:11px;line-height:12px;color:#333">27</div>
<svg class="a" style="left:530px;top:444px" width="6" height="2" viewBox="0 0 6 3" shape-rendering="crispEdges"><rect x="2" y="0" width="1" height="1" fill="#fff"/><rect x="1" y="1" width="3" height="2" fill="#fff"/></svg>
<div class="dl" style="left:542px;top:433px;color:#f2265c">28</div>
<div class="dl" style="left:561px;top:433px;color:#f2265c">29</div>
<div class="dl" style="left:580px;top:433px;color:#3c3c3c">30</div>
<div class="dl" style="left:599px;top:433px;color:#3c3c3c">31</div>
<div class="dl" style="left:618px;top:433px;color:#3c3c3c">01</div>
<div class="a" style="left:617px;top:429px;width:1px;height:29px;background:#555"></div>
<div class="a" style="left:48px;top:458px;width:589px;height:1px;background:#e3e3e3"></div>
<div class="t" style="left:16.5px;top:448px;font-size:11px;color:#4a4a4a">Декабрь</div>
<div class="t" style="left:621.5px;top:448px;font-size:11px;color:#4a4a4a">Январь</div>
<div class="lt" style="left:52px;top:481px">Менструация</div>
<div class="lt" style="left:181px;top:481px">Тест на овуляцию</div>
<div class="lt" style="left:299px;top:481px">Тест на беременность</div>
<div class="lt" style="left:423px;top:481px">Цервикальная жидкость</div>
<div class="lg" style="left:72px;top:495px">менструация</div>
<div class="lg" style="left:72px;top:509px">небольшие выделения</div>
<div class="lg" style="left:200px;top:495px">положительный</div>
<div class="lg" style="left:200px;top:509px">отрицательный</div>
<div class="lg" style="left:319px;top:495px">положительный</div>
<div class="lg" style="left:319px;top:509px">отрицательный</div>
<div class="lg" style="left:319px;top:523px">слабоположительный</div>
<div class="lg" style="left:443px;top:495px">сухо</div>
<div class="lg" style="left:443px;top:509px">клейкая</div>
<div class="lg" style="left:443px;top:523px">кремообразная</div>
<div class="lg" style="left:443px;top:538px">водянистая</div>
<div class="lg" style="left:443px;top:552px">яичный белок</div>
<div class="lg" style="left:555px;top:495px">половой акт</div>
<div class="lg" style="left:555px;top:509px">прием лекарств</div>
<div class="lg" style="left:555px;top:523px">лунный календарь</div>
<svg class="a" style="left:0;top:0" width="675" height="587" viewBox="0 0 675 587">
<rect x="58" y="496" width="1" height="1" fill="#f2265c" fill-opacity="0.5"/><rect x="58" y="497" width="1" height="1" fill="#f2265c"/><rect x="57" y="498" width="1" height="1" fill="#f2265c" fill-opacity="0.5"/><rect x="58" y="498" width="1" height="1" fill="#f2265c"/><rect x="59" y="498" width="1" height="1" fill="#f2265c" fill-opacity="0.5"/><rect x="57" y="499" width="3" height="1" fill="#f2265c"/><rect x="56" y="500" width="1" height="1" fill="#f2265c" fill-opacity="0.5"/><rect x="57" y="500" width="3" height="1" fill="#f2265c"/><rect x="60" y="500" width="1" height="1" fill="#f2265c" fill-opacity="0.5"/><rect x="56" y="501" width="5" height="1" fill="#f2265c"/><rect x="56" y="502" width="5" height="1" fill="#f2265c"/><rect x="56" y="503" width="1" height="1" fill="#f2265c" fill-opacity="0.5"/><rect x="57" y="503" width="3" height="1" fill="#f2265c"/><rect x="60" y="503" width="1" height="1" fill="#f2265c" fill-opacity="0.5"/>
<rect x="54" y="500" width="1" height="1" fill="#f2265c" fill-opacity="0.5"/><rect x="54" y="501" width="1" height="1" fill="#f2265c"/><rect x="53" y="502" width="1" height="1" fill="#f2265c" fill-opacity="0.5"/><rect x="54" y="502" width="1" height="1" fill="#f2265c"/><rect x="55" y="502" width="1" height="1" fill="#f2265c" fill-opacity="0.5"/><rect x="53" y="503" width="3" height="1" fill="#f2265c"/><rect x="53" y="504" width="3" height="1" fill="#f2265c"/><rect x="53" y="505" width="1" height="1" fill="#f2265c" fill-opacity="0.5"/><rect x="54" y="505" width="1" height="1" fill="#f2265c"/><rect x="55" y="505" width="1" height="1" fill="#f2265c" fill-opacity="0.5"/>
<rect x="57" y="512" width="1" height="1" fill="#f2265c" fill-opacity="0.5"/><rect x="57" y="513" width="1" height="1" fill="#f2265c"/><rect x="56" y="514" width="1" height="1" fill="#f2265c" fill-opacity="0.5"/><rect x="57" y="514" width="1" height="1" fill="#f2265c"/><rect x="58" y="514" width="1" height="1" fill="#f2265c" fill-opacity="0.5"/><rect x="56" y="515" width="3" height="1" fill="#f2265c"/><rect x="56" y="516" width="3" height="1" fill="#f2265c"/><rect x="56" y="517" width="1" height="1" fill="#f2265c" fill-opacity="0.5"/><rect x="57" y="517" width="1" height="1" fill="#f2265c"/><rect x="58" y="517" width="1" height="1" fill="#f2265c" fill-opacity="0.5"/>
<circle cx="187.5" cy="500.5" r="5" fill="none" stroke="#f6c35a"/><circle cx="187.5" cy="500.5" r="3.3" fill="#f5c04e"/>
<circle cx="187.5" cy="514.5" r="5" fill="none" stroke="#ccc"/><circle cx="187.5" cy="514.5" r="3.3" fill="#c4c4c4"/>
<defs><radialGradient id="po" cx="0.35" cy="0.3" r="0.8"><stop offset="0" stop-color="#fbd77e"/><stop offset="1" stop-color="#f0b02c"/></radialGradient><radialGradient id="pw" cx="0.35" cy="0.3" r="0.8"><stop offset="0" stop-color="#eeeeee"/><stop offset="1" stop-color="#a8a8a8"/></radialGradient></defs>
<g transform="translate(306.0 500.5)"><path d="M-5.5 -0.5 Q-5.5 -5.5 0 -5.5 Q5.5 -5.5 5.5 -0.5 Q5.5 2.8 1.2 4.6 L0 5.8 L-1.2 4.6 Q-5.5 2.8 -5.5 -0.5Z" fill="none" stroke="#f5c35c" stroke-width="1"/><path d="M-5.5 -0.5 Q-5.5 -5.5 0 -5.5 Q5.5 -5.5 5.5 -0.5 Q5.5 2.8 1.2 4.6 L0 5.8 L-1.2 4.6 Q-5.5 2.8 -5.5 -0.5Z" transform="scale(0.7)" fill="url(#po)"/></g>
<g transform="translate(306.0 514.5)"><path d="M-5.5 -0.5 Q-5.5 -5.5 0 -5.5 Q5.5 -5.5 5.5 -0.5 Q5.5 2.8 1.2 4.6 L0 5.8 L-1.2 4.6 Q-5.5 2.8 -5.5 -0.5Z" fill="#f4f4f4" stroke="#c4c4c4" stroke-width="1"/></g>
<g transform="translate(306.0 528.5)"><path d="M-5.5 -0.5 Q-5.5 -5.5 0 -5.5 Q5.5 -5.5 5.5 -0.5 Q5.5 2.8 1.2 4.6 L0 5.8 L-1.2 4.6 Q-5.5 2.8 -5.5 -0.5Z" fill="none" stroke="#bdbdbd" stroke-width="1"/><path d="M-5.5 -0.5 Q-5.5 -5.5 0 -5.5 Q5.5 -5.5 5.5 -0.5 Q5.5 2.8 1.2 4.6 L0 5.8 L-1.2 4.6 Q-5.5 2.8 -5.5 -0.5Z" transform="scale(0.7)" fill="url(#pw)"/></g>
<rect x="432" y="498" width="1" height="1" fill="#b4b4b4"/><rect x="438" y="498" width="1" height="1" fill="#b4b4b4"/><rect x="433" y="499" width="1" height="1" fill="#b4b4b4"/><rect x="437" y="499" width="1" height="1" fill="#b4b4b4"/><rect x="434" y="500" width="1" height="1" fill="#b4b4b4"/><rect x="436" y="500" width="1" height="1" fill="#b4b4b4"/><rect x="434" y="502" width="1" height="1" fill="#b4b4b4"/><rect x="436" y="502" width="1" height="1" fill="#b4b4b4"/><rect x="433" y="503" width="1" height="1" fill="#b4b4b4"/><rect x="437" y="503" width="1" height="1" fill="#b4b4b4"/><rect x="432" y="504" width="1" height="1" fill="#b4b4b4"/><rect x="438" y="504" width="1" height="1" fill="#b4b4b4"/>
<rect x="435" y="501" width="1" height="1" fill="#8a8a8a"/>
<rect x="432" y="512" width="7" height="1" fill="#9a9a9a"/><rect x="433" y="513" width="5" height="1" fill="#9a9a9a"/><rect x="435" y="514" width="1" height="1" fill="#9a9a9a"/><rect x="435" y="515" width="1" height="1" fill="#9a9a9a"/><rect x="435" y="516" width="1" height="1" fill="#9a9a9a"/><rect x="435" y="517" width="1" height="1" fill="#9a9a9a"/><rect x="434" y="518" width="3" height="1" fill="#9a9a9a"/><rect x="432" y="519" width="7" height="1" fill="#9a9a9a"/>
<path d="M431 527.5 C431 524.5 436 524 438 527 C439.8 530 437.5 533.5 434 535 C435.5 533.5 436 532 435.3 530.6 C433.5 531 431 530 431 527.5Z" fill="#7d7d7d"/>
<rect x="435" y="539" width="1" height="1" fill="#8c8c8c" fill-opacity="0.5"/><rect x="435" y="540" width="1" height="1" fill="#8c8c8c"/><rect x="434" y="541" width="1" height="1" fill="#8c8c8c" fill-opacity="0.5"/><rect x="435" y="541" width="1" height="1" fill="#8c8c8c"/><rect x="436" y="541" width="1" height="1" fill="#8c8c8c" fill-opacity="0.5"/><rect x="434" y="542" width="3" height="1" fill="#8c8c8c"/><rect x="433" y="543" width="1" height="1" fill="#8c8c8c" fill-opacity="0.5"/><rect x="434" y="543" width="3" height="1" fill="#8c8c8c"/><rect x="437" y="543" width="1" height="1" fill="#8c8c8c" fill-opacity="0.5"/><rect x="433" y="544" width="5" height="1" fill="#8c8c8c"/><rect x="433" y="545" width="5" height="1" fill="#8c8c8c"/><rect x="433" y="546" width="1" height="1" fill="#8c8c8c" fill-opacity="0.5"/><rect x="434" y="546" width="3" height="1" fill="#8c8c8c"/><rect x="437" y="546" width="1" height="1" fill="#8c8c8c" fill-opacity="0.5"/>
<path d="M435.7 552 C438 552 439.6 555.5 439.6 558 C439.6 560.5 438 562 435.7 562 C433.4 562 431.8 560.5 431.8 558 C431.8 555.5 433.4 552 435.7 552Z" fill="#969696"/>
<rect x="542" y="498" width="2" height="1" fill="#fff"/><rect x="545" y="498" width="2" height="1" fill="#fff"/><rect x="542" y="499" width="5" height="1" fill="#fff"/><rect x="542" y="500" width="5" height="1" fill="#fff"/><rect x="543" y="501" width="3" height="1" fill="#fff"/><rect x="544" y="502" width="1" height="1" fill="#fff"/>
<rect x="542" y="497" width="2" height="1" fill="#f5437a"/><rect x="545" y="497" width="2" height="1" fill="#f5437a"/><rect x="541" y="498" width="1" height="1" fill="#f5437a"/><rect x="544" y="498" width="1" height="1" fill="#f5437a"/><rect x="547" y="498" width="1" height="1" fill="#f5437a"/><rect x="541" y="499" width="1" height="1" fill="#f5437a"/><rect x="547" y="499" width="1" height="1" fill="#f5437a"/><rect x="541" y="500" width="1" height="1" fill="#f5437a"/><rect x="547" y="500" width="1" height="1" fill="#f5437a"/><rect x="542" y="501" width="1" height="1" fill="#f5437a"/><rect x="546" y="501" width="1" height="1" fill="#f5437a"/><rect x="543" y="502" width="1" height="1" fill="#f5437a"/><rect x="545" y="502" width="1" height="1" fill="#f5437a"/><rect x="544" y="503" width="1" height="1" fill="#f5437a"/>
<defs><radialGradient id="pg" cx="0.4" cy="0.35" r="0.7"><stop offset="0" stop-color="#fbfbfb"/><stop offset="1" stop-color="#d6d6d6"/></radialGradient></defs><circle cx="545" cy="514" r="4.6" fill="url(#pg)" stroke="#d2d2d2" stroke-width="0.8"/><path d="M542 517 l6 -6" stroke="#b8b8b8" stroke-width="1"/><path d="M542.8 517.8 l6 -6" stroke="#fff" stroke-width="0.8"/>
<defs><linearGradient id="mgb" x1="0" y1="0.6" x2="1" y2="0.4"><stop offset="0.05" stop-color="#ec1a52"/><stop offset="0.22" stop-color="#f03a6a"/><stop offset="0.42" stop-color="#f79fb7"/><stop offset="0.65" stop-color="#fde6ee"/></linearGradient><mask id="mmb"><rect x="538.9" y="522.6" width="12.2" height="12.2" fill="#fff"/><circle cx="548.98" cy="528.70" r="4.84" fill="#000"/></mask></defs><circle cx="545.00" cy="528.70" r="5.10" fill="url(#mgb)" mask="url(#mmb)"/>
</svg>
<div class="a" style="left:46px;top:586px;width:591px;height:1px;background:#e6e6e6"></div>
</body></html>
